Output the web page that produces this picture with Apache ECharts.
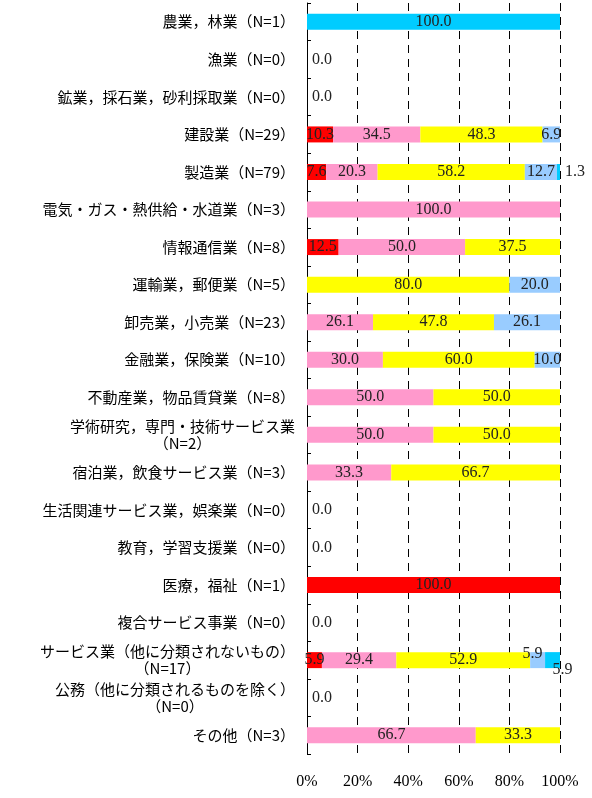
<!DOCTYPE html>
<html lang="ja">
<head>
<meta charset="UTF-8">
<title>業種別</title>
<script src="https://cdn.jsdelivr.net/npm/echarts@6/dist/echarts.min.js"></script>
<style>
  html, body { margin: 0; padding: 0; background: #fff; }
  #main { width: 592px; height: 798px; }
</style>
</head>
<body>
<div id="main"></div>
<script>
// 業種（上から順）
var categories = [
    '農業，林業（N=1）',
    '漁業（N=0）',
    '鉱業，採石業，砂利採取業（N=0）',
    '建設業（N=29）',
    '製造業（N=79）',
    '電気・ガス・熱供給・水道業（N=3）',
    '情報通信業（N=8）',
    '運輸業，郵便業（N=5）',
    '卸売業，小売業（N=23）',
    '金融業，保険業（N=10）',
    '不動産業，物品賃貸業（N=8）',
    '学術研究，専門・技術サービス業\n（N=2）',
    '宿泊業，飲食サービス業（N=3）',
    '生活関連サービス業，娯楽業（N=0）',
    '教育，学習支援業（N=0）',
    '医療，福祉（N=1）',
    '複合サービス事業（N=0）',
    'サービス業（他に分類されないもの）\n（N=17）',
    '公務（他に分類されるものを除く）\n（N=0）',
    'その他（N=3）'
];

var redVals    = [0, 0, 0, 10.3, 7.6, 0, 12.5, 0, 0, 0, 0, 0, 0, 0, 0, 100.0, 0, 5.9, 0, 0];
var pinkVals   = [0, 0, 0, 34.5, 20.3, 100.0, 50.0, 0, 26.1, 30.0, 50.0, 50.0, 33.3, 0, 0, 0, 0, 29.4, 0, 66.7];
var yellowVals = [0, 0, 0, 48.3, 58.2, 0, 37.5, 80.0, 47.8, 60.0, 50.0, 50.0, 66.7, 0, 0, 0, 0, 52.9, 0, 33.3];
var blueVals   = [0, 0, 0, 6.9, 12.7, 0, 0, 20.0, 26.1, 10.0, 0, 0, 0, 0, 0, 0, 0, 5.9, 0, 0];
var cyanVals   = [100.0, 0, 0, 0, 1.3, 0, 0, 0, 0, 0, 0, 0, 0, 0, 0, 0, 0, 5.9, 0, 0];

var xTicks = [0, 20, 40, 60, 80, 100];

var numFont = "'Liberation Serif', 'Noto Sans CJK JP', serif";
var cjkFont = "'Noto Sans CJK JP', sans-serif";

// ラベル位置の微調整（重なり回避）
var labelShift = {
    'blue-17': [-5, -6],
    'cyan-17': [10, 10]
};

function makeData(key, vals) {
    return vals.map(function (v, i) {
        var total = redVals[i] + pinkVals[i] + yellowVals[i] + blueVals[i] + cyanVals[i];
        var lab = { show: v > 0 };
        if (v > 0 && v < 3) lab.position = 'right';
        if (key === 'red' && total === 0) {
            lab = { show: true, position: 'right', distance: 5 };
        }
        return { value: v, label: lab };
    });
}

var seriesDefs = [
    { key: 'red', name: '区分1', color: '#ff0000', vals: redVals },
    { key: 'pink', name: '区分2', color: '#ff99cc', vals: pinkVals },
    { key: 'yellow', name: '区分3', color: '#ffff00', vals: yellowVals },
    { key: 'blue', name: '区分4', color: '#99ccff', vals: blueVals },
    { key: 'cyan', name: '区分5', color: '#00ccff', vals: cyanVals }
];

var chart = echarts.init(document.getElementById('main'));

var option = {
    animation: false,
    grid: { left: 307, right: 32, top: 3, bottom: 44 },
    xAxis: {
        type: 'value',
        min: 0,
        max: 100,
        interval: 20,
        axisLine: { show: false },
        axisTick: { show: false },
        axisLabel: {
            margin: 20,
            color: '#000',
            fontSize: 16,
            fontFamily: numFont,
            formatter: function (v) { return xTicks.indexOf(v) >= 0 ? v + '%' : ''; }
        },
        splitLine: {
            show: true,
            lineStyle: { color: '#000', width: 1, type: [8, 6] }
        }
    },
    yAxis: {
        type: 'category',
        inverse: true,
        data: categories,
        axisLine: { show: true, lineStyle: { color: '#000', width: 1 } },
        axisTick: { show: true, inside: true, length: 4, lineStyle: { color: '#000' } },
        axisLabel: {
            margin: 12,
            color: '#000',
            fontSize: 15,
            lineHeight: 17,
            fontFamily: cjkFont,
            formatter: function (v) {
                var parts = v.split('\n');
                if (parts.length === 1) return v;
                return parts.map(function (p) { return '{c|' + p + '}'; }).join('\n');
            },
            rich: {
                c: { align: 'center', fontSize: 15, lineHeight: 17, color: '#000', fontFamily: cjkFont }
            }
        },
        splitLine: { show: false }
    },
    series: seriesDefs.map(function (s) {
        return {
            name: s.name,
            type: 'bar',
            stack: 'total',
            barWidth: 16,
            itemStyle: { color: s.color },
            label: {
                show: true,
                position: 'inside',
                color: '#222',
                fontSize: 16,
                fontFamily: numFont,
                formatter: function (p) { return p.value.toFixed(1); }
            },
            labelLayout: function (params) {
                var d = labelShift[s.key + '-' + params.dataIndex];
                if (d) return { dx: d[0], dy: d[1] };
                return {};
            },
            data: makeData(s.key, s.vals)
        };
    })
};

chart.setOption(option);
</script>
</body>
</html>
